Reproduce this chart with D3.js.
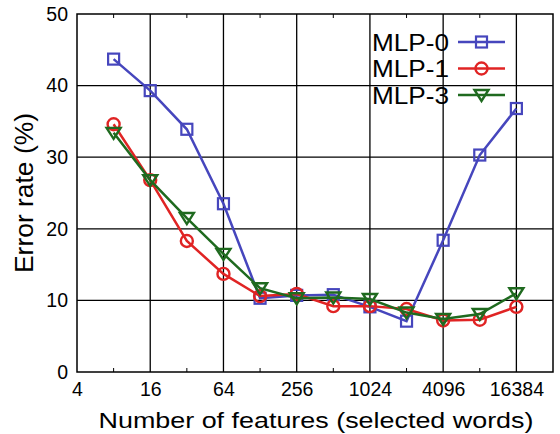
<!DOCTYPE html>
<html>
<head>
<meta charset="utf-8">
<script src="https://cdn.jsdelivr.net/npm/d3@7"></script>
<style>
  body { margin: 0; background: #fff; }
  svg { font-family: "Liberation Sans", Arial, sans-serif; }
</style>
</head>
<body>
<div id="chart"></div>
<script>
// features on the x axis (log2)
const features = [8, 16, 32, 64, 128, 256, 512, 1024, 2048, 4096, 8192, 16384];
const mlp0 = [43.7, 39.3, 33.9, 23.5, 10.3, 10.7, 10.8, 9.1, 7.1, 18.4, 30.3, 36.8];
const mlp1 = [34.6, 26.8, 18.3, 13.7, 10.6, 10.9, 9.2, 9.2, 8.8, 7.2, 7.3, 9.1];
const mlp3 = [33.4, 26.8, 21.5, 16.5, 11.7, 10.3, 10.4, 10.2, 8.3, 7.4, 8.1, 11.0];
const seriesNames = ['MLP-0', 'MLP-1', 'MLP-3'];
const xTicks = [4, 16, 64, 256, 1024, 4096, 16384];
const xMinor = [8, 32, 128, 512, 2048, 8192];
const yTicks = [0, 10, 20, 30, 40, 50];

const width = 560, height = 434;
const margins = {top: 14, bottom: 62, left: 77, right: 7};

const svg = d3.select('#chart')
    .append('svg')
    .attr('width', width)
    .attr('height', height);

let x_scale = d3.scaleLog().base(2)
    .domain([4, 32768])
    .range([margins.left, width - margins.right]);

let y_scale = d3.scaleLinear()
    .domain([0, 50])
    .range([height - margins.bottom, margins.top]);

const x0 = margins.left, x1 = width - margins.right;
const y0 = height - margins.bottom, y1 = margins.top;

// grid
svg.append('g').selectAll('line.gx')
    .data(xTicks.slice(1))
    .enter().append('line')
    .attr('x1', d => x_scale(d)).attr('x2', d => x_scale(d))
    .attr('y1', y0).attr('y2', y1)
    .attr('stroke', '#000').attr('stroke-width', 1.3);

svg.append('g').selectAll('line.gy')
    .data(yTicks.slice(1, -1))
    .enter().append('line')
    .attr('x1', x0).attr('x2', x1)
    .attr('y1', d => y_scale(d)).attr('y2', d => y_scale(d))
    .attr('stroke', '#000').attr('stroke-width', 1.3);

// minor ticks top & bottom
svg.append('g').selectAll('line')
    .data(xMinor)
    .enter().append('line')
    .attr('x1', d => x_scale(d)).attr('x2', d => x_scale(d))
    .attr('y1', y0).attr('y2', y0 - 4)
    .attr('stroke', '#000').attr('stroke-width', 1);
svg.append('g').selectAll('line')
    .data(xMinor)
    .enter().append('line')
    .attr('x1', d => x_scale(d)).attr('x2', d => x_scale(d))
    .attr('y1', y1).attr('y2', y1 + 4)
    .attr('stroke', '#000').attr('stroke-width', 1);

// axes labels
let x_axis = d3.axisBottom(x_scale).tickValues(xTicks).tickFormat(d3.format('d')).tickSize(0).tickPadding(10);
let y_axis = d3.axisLeft(y_scale).tickValues(yTicks).tickSize(0).tickPadding(9);

let gx = svg.append('g')
    .attr('transform', 'translate(0,' + y0 + ')')
    .call(x_axis);
gx.select('.domain').remove();
gx.selectAll('text').attr('font-size', '19.5px').attr('fill', '#000')
    .attr('font-family', '"Liberation Sans", Arial, sans-serif');

let gy = svg.append('g')
    .attr('transform', 'translate(' + x0 + ',0)')
    .call(y_axis);
gy.select('.domain').remove();
gy.selectAll('text').attr('font-size', '19.5px').attr('fill', '#000')
    .attr('font-family', '"Liberation Sans", Arial, sans-serif');

// border
svg.append('rect')
    .attr('x', x0).attr('y', y1)
    .attr('width', x1 - x0).attr('height', y0 - y1)
    .attr('fill', 'none').attr('stroke', '#000').attr('stroke-width', 1.5);

svg.append('text')
    .attr('x', (x0 + x1) / 2 + 1)
    .attr('y', 428)
    .attr('text-anchor', 'middle')
    .attr('font-size', '22px')
    .attr('textLength', 435)
    .attr('lengthAdjust', 'spacingAndGlyphs')
    .text('Number of features (selected words)');

svg.append('text')
    .attr('transform', 'translate(33,193) rotate(-90)')
    .attr('text-anchor', 'middle')
    .attr('font-size', '26px')
    .attr('textLength', 160)
    .attr('lengthAdjust', 'spacingAndGlyphs')
    .text('Error rate (%)');

// series
const series = [
    {name: seriesNames[0], values: mlp0, color: '#4646bd', marker: 'square'},
    {name: seriesNames[1], values: mlp1, color: '#e02424', marker: 'circle'},
    {name: seriesNames[2], values: mlp3, color: '#1f6a1f', marker: 'tri'}
];

function drawMarker(g, type, color) {
    if (type === 'square') {
        g.append('rect').attr('x', -5.5).attr('y', -5.5).attr('width', 11).attr('height', 11)
            .attr('fill', 'none').attr('stroke', color).attr('stroke-width', 2.2);
    } else if (type === 'circle') {
        g.append('circle').attr('r', 6)
            .attr('fill', 'none').attr('stroke', color).attr('stroke-width', 2.4);
    } else {
        g.append('path').attr('d', 'M-7,-5 L7,-5 L0,6 Z')
            .attr('fill', 'none').attr('stroke', color).attr('stroke-width', 2.4);
    }
}

let line = d3.line()
    .x(d => x_scale(d[0]))
    .y(d => y_scale(d[1]));

series.forEach(function(s) {
    let pts = features.map((f, i) => [f, s.values[i]]);
    svg.append('path')
        .attr('d', line(pts))
        .attr('fill', 'none')
        .attr('stroke', s.color)
        .attr('stroke-width', 2.5);
    pts.forEach(function(p) {
        let g = svg.append('g')
            .attr('transform', 'translate(' + x_scale(p[0]) + ',' + y_scale(p[1]) + ')');
        drawMarker(g, s.marker, s.color);
    });
});

// legend
series.forEach(function(s, i) {
    let ly = 42 + i * 26.5;
    svg.append('text')
        .attr('x', 449).attr('y', ly + 8.5)
        .attr('text-anchor', 'end')
        .attr('font-size', '23.5px')
        .attr('textLength', 77)
        .attr('lengthAdjust', 'spacingAndGlyphs')
        .text(s.name);
    svg.append('line')
        .attr('x1', 458).attr('x2', 505)
        .attr('y1', ly).attr('y2', ly)
        .attr('stroke', s.color).attr('stroke-width', 2.5);
    let g = svg.append('g').attr('transform', 'translate(481.5,' + ly + ')');
    drawMarker(g, s.marker, s.color);
});
</script>
</body>
</html>
